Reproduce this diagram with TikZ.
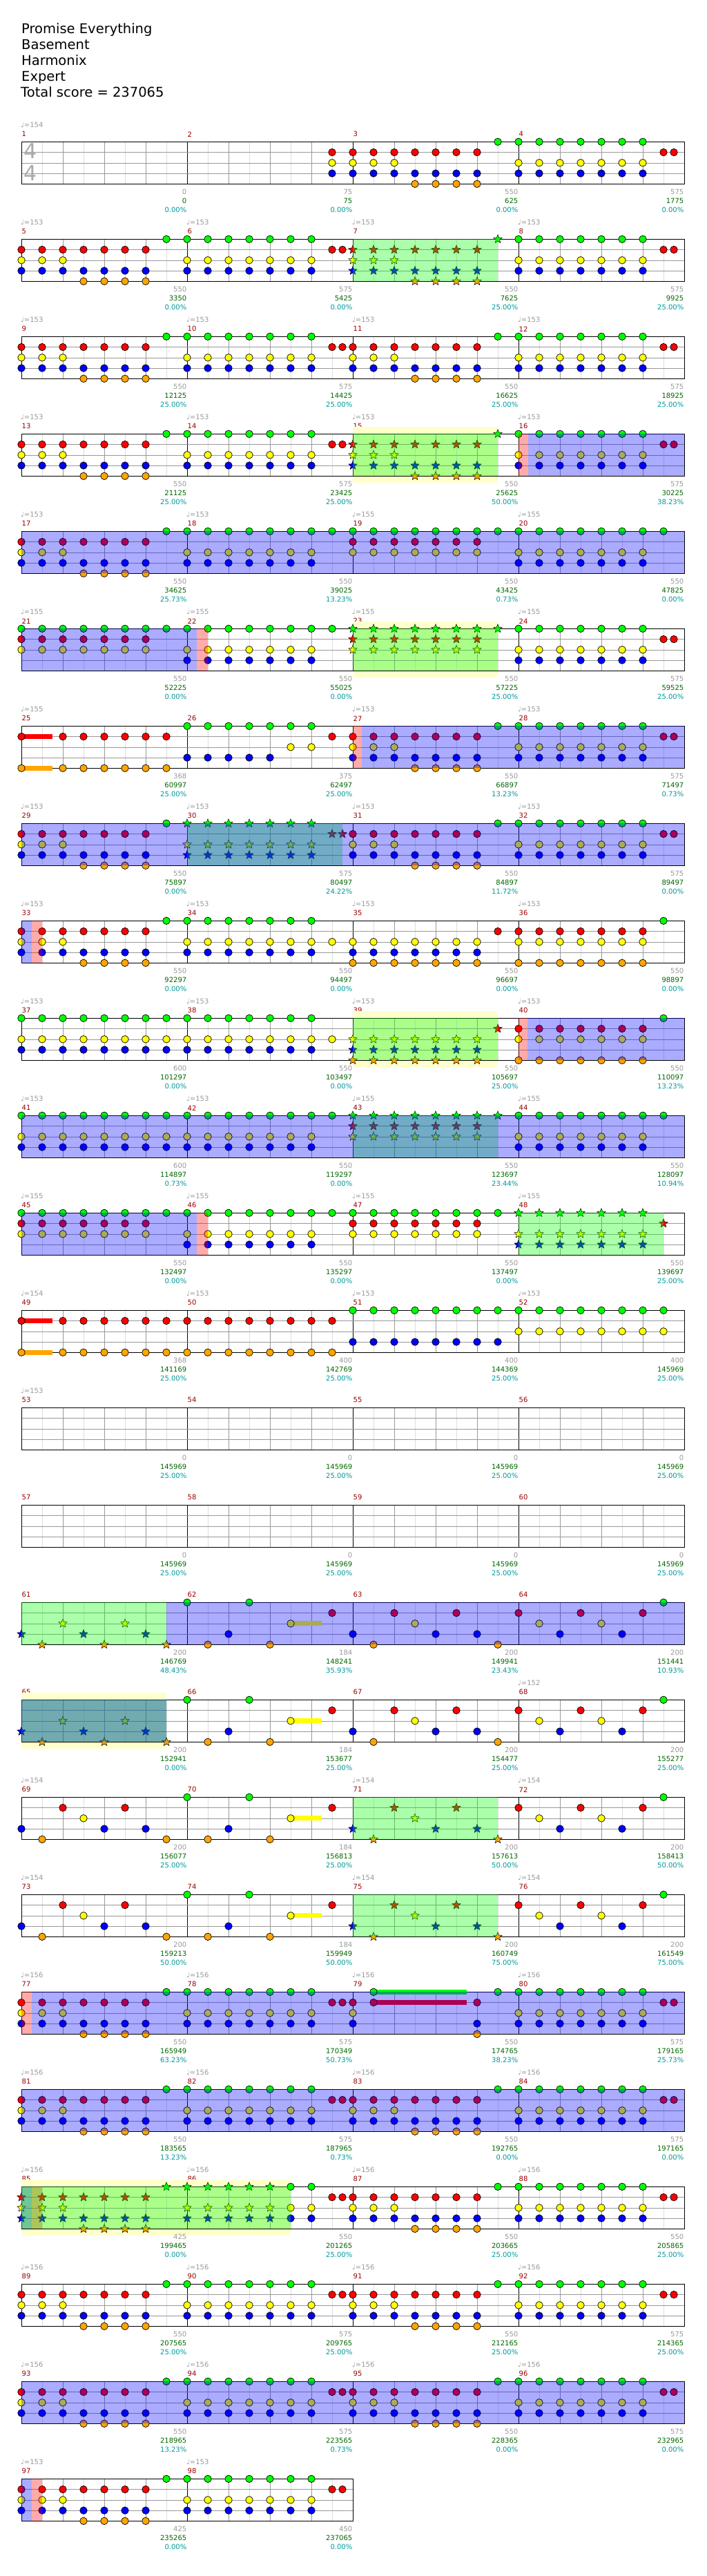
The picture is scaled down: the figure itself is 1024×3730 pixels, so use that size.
\documentclass[tikz,border=0pt]{standalone}
\usepackage{fontspec}
\setmainfont{DejaVu Sans}
\usepackage{tikz}
\usetikzlibrary{shapes.geometric}

\definecolor{ng}{HTML}{00FF00}
\definecolor{nr}{HTML}{FF0000}
\definecolor{ny}{HTML}{FFFF00}
\definecolor{nb}{HTML}{0000FF}
\definecolor{no}{HTML}{FFA500}
\definecolor{barred}{HTML}{990000}
\definecolor{tempogrey}{HTML}{999999}
\definecolor{beatgrey}{HTML}{999999}
\definecolor{halfgrey}{HTML}{DDDDDD}
\definecolor{ptsgreen}{HTML}{006600}
\definecolor{pcteal}{HTML}{009999}
\definecolor{soloyellow}{HTML}{FFFFCC}
\definecolor{tsgrey}{HTML}{AAAAAA}

% lane offsets below the staff top
\def\lyg{0}\def\lyr{15.25}\def\lyy{30.5}\def\lyb{45.75}\def\lyo{61}

\tikzset{
  note/.style={circle, draw=black, line width=0.7pt, fill=n#1, minimum size=10.5pt, inner sep=0pt},
  starnote/.style={star, star points=5, star point ratio=2.3, draw=black, line width=0.5pt, fill=n#1, minimum size=13pt, inner sep=0pt},
  lbl/.style={inner sep=0pt, font=\fontsize{10}{12}\selectfont},
  headline/.style={inner sep=0pt, anchor=base west, font=\fontsize{19.5}{22}\selectfont}
}

\newcommand\mpos[1]{%
  \pgfmathtruncatemacro\mrow{(#1-1)/4}%
  \pgfmathtruncatemacro\mcol{mod(#1-1,4)}%
  \pgfmathsetmacro\mx{31+240*\mcol}%
  \pgfmathsetmacro\my{205.3+141*\mrow}}
\newcommand\rowy[1]{\pgfmathsetmacro\ry{205.3+141*(#1-1)}}

% chords: measure, eighth positions, lanes
\newcommand\chs[3]{\mpos{#1}%
  \foreach \p in {#2}{\foreach \l in {#3}{%
    \pgfmathtruncatemacro\pn{10*\p}%
    \node[note=\l] (n#1-\pn-\l) at ({\mx+30*\p},{\my+\csname ly\l\endcsname}) {};}}}
\newcommand\sts[3]{\mpos{#1}%
  \foreach \p in {#2}{\foreach \l in {#3}{%
    \pgfmathtruncatemacro\pn{10*\p}%
    \node[starnote=\l] (s#1-\pn-\l) at ({\mx+30*\p},{\my+\csname ly\l\endcsname}) {};}}}
\newcommand\sus[4]{\mpos{#1}%
  \fill[n#4] ({\mx+30*#2},{\my+\csname ly#4\endcsname-3.5}) rectangle ++({30*#3},7);}

\newcommand\riffA[1]{\chs{#1}{0,1,2}{r,y,b}\chs{#1}{3,4,5,6}{r,b,o}\chs{#1}{7}{g}}
\newcommand\riffB[1]{\chs{#1}{0,...,6}{g,y,b}\chs{#1}{7,7.5}{r}}
\newcommand\riffAs[1]{\sts{#1}{0,1,2}{r,y,b}\sts{#1}{3,4,5,6}{r,b,o}\sts{#1}{7}{g}}

% row, from, to (in eighths from the row start)
\newcommand\odrive[3]{\rowy{#1}\fill[nb, opacity=0.33] ({31+30*#2},\ry) rectangle ({31+30*#3},\ry+61);}
\newcommand\sphrase[3]{\rowy{#1}\fill[ng, opacity=0.33] ({31+30*#2},\ry) rectangle ({31+30*#3},\ry+61);}
\newcommand\activ[3]{\rowy{#1}\fill[nr, opacity=0.33] ({31+30*#2},\ry) rectangle ({31+30*#3},\ry+61);}
\newcommand\solo[3]{\rowy{#1}\fill[soloyellow] ({31+30*#2},\ry-10) rectangle ({31+30*#3},\ry+71);}

\newcommand\staff[2]{\rowy{#1}%
  \pgfmathsetmacro\sw{240*#2}%
  \pgfmathtruncatemacro\nl{8*#2-1}%
  \pgfmathtruncatemacro\nm{#2-1}%
  \foreach \i in {1,3,...,\nl} \draw[halfgrey] ({31+30*\i},\ry) -- ++(0,61);
  \foreach \i in {2,4,...,\nl} \draw[beatgrey] ({31+30*\i},\ry) -- ++(0,61);
  \foreach \i in {1,...,\nm} \draw[black] ({31+240*\i},\ry) -- ++(0,61);
  \foreach \k in {15.25,30.5,45.75} \draw[beatgrey] (31,\ry+\k) -- ++(\sw,0);
  \draw[black, line width=0.9pt] (31,\ry) rectangle ++(\sw,61);}

\newcommand\mnum[1]{\mpos{#1}\node[lbl, text=barred, anchor=west] (m#1) at (\mx+0.5,\my-11) {#1};}
\newcommand\tempo[2]{\mpos{#1}\node[lbl, text=tempogrey, anchor=west] (t#1) at (\mx-1,\my-24) {♩=#2};}
\newcommand\score[4]{\mpos{#1}%
  \node[lbl, text=tempogrey, anchor=east] (g#1) at (\mx+239.5,\my+72.5) {#2};
  \node[lbl, text=ptsgreen, anchor=east] (p#1) at (\mx+239.5,\my+86) {#3};
  \node[lbl, text=pcteal, anchor=east] (c#1) at (\mx+239.5,\my+99) {#4\%};}

\begin{document}
\begin{tikzpicture}[x=1pt, y=-1pt]
  \useasboundingbox (0,0) rectangle (1024,3730);
  \fill[white] (0,0) rectangle (1024,3730);

  \node[headline] (song) at (31,49) {Promise Everything};
  \node[headline] (artist) at (31,72) {Basement};
  \node[headline] (charter) at (31,95) {Harmonix};
  \node[headline] (level) at (31,118) {Expert};
  \node[headline] (total) at (30,141) {Total score = 237065};

  \foreach \m in {1,...,98} {\mnum{\m}}

  % row 1
  \staff{1}{4}
  \node[text=tsgrey, inner sep=0pt, font=\fontsize{30}{30}\selectfont] (ts1) at (44.5,219) {4};
  \node[text=tsgrey, inner sep=0pt, font=\fontsize{30}{30}\selectfont] (ts2) at (44.5,250.5) {4};
  \chs{2}{7}{r,y,b}
  \riffA{3}
  \riffB{4}
  \tempo{1}{154}
  \score{1}{0}{0}{0.00}
  \score{2}{75}{75}{0.00}
  \score{3}{550}{625}{0.00}
  \score{4}{575}{1775}{0.00}

  % row 2
  \staff{2}{4}
  \riffA{5}
  \riffB{6}
  \riffAs{7}
  \riffB{8}
  \sphrase{2}{16}{23}
  \foreach \m in {5,...,8} {\tempo{\m}{153}}
  \score{5}{550}{3350}{0.00}
  \score{6}{575}{5425}{0.00}
  \score{7}{550}{7625}{25.00}
  \score{8}{575}{9925}{25.00}

  % row 3
  \staff{3}{4}
  \riffA{9}
  \riffB{10}
  \riffA{11}
  \riffB{12}
  \foreach \m in {9,...,12} {\tempo{\m}{153}}
  \score{9}{550}{12125}{25.00}
  \score{10}{575}{14425}{25.00}
  \score{11}{550}{16625}{25.00}
  \score{12}{575}{18925}{25.00}

  % row 4
  \solo{4}{16}{23}
  \staff{4}{4}
  \riffA{13}
  \riffB{14}
  \riffAs{15}
  \riffB{16}
  \sphrase{4}{16}{23}
  \activ{4}{24}{24.45}
  \odrive{4}{24.45}{32}
  \foreach \m in {13,...,16} {\tempo{\m}{153}}
  \score{13}{550}{21125}{25.00}
  \score{14}{575}{23425}{25.00}
  \score{15}{550}{25625}{50.00}
  \score{16}{575}{30225}{38.23}

  % row 5
  \staff{5}{4}
  \riffA{17}
  \chs{18}{0,...,6}{g,y,b}\chs{18}{7}{g}
  \chs{19}{0,...,6}{g,r,y}\chs{19}{7}{g}
  \chs{20}{0,...,6}{g,y,b}\chs{20}{7}{g}
  \odrive{5}{0}{32}
  \tempo{17}{153}\tempo{18}{153}\tempo{19}{155}\tempo{20}{155}
  \score{17}{550}{34625}{25.73}
  \score{18}{550}{39025}{13.23}
  \score{19}{550}{43425}{0.73}
  \score{20}{550}{47825}{0.00}

  % row 6
  \solo{6}{16}{23}
  \staff{6}{4}
  \chs{21}{0,...,6}{g,r,y}\chs{21}{7}{g}
  \chs{22}{0,...,6}{g,y,b}\chs{22}{7}{g}
  \sts{23}{0,...,6}{g,r,y}\sts{23}{7}{g}
  \riffB{24}
  \odrive{6}{0}{8.45}
  \activ{6}{8.45}{9}
  \sphrase{6}{16}{23}
  \foreach \m in {21,...,24} {\tempo{\m}{155}}
  \score{21}{550}{52225}{0.00}
  \score{22}{550}{55025}{0.00}
  \score{23}{550}{57225}{25.00}
  \score{24}{575}{59525}{25.00}

  % row 7
  \staff{7}{4}
  \sus{25}{0}{1.5}{r}\sus{25}{0}{1.5}{o}
  \chs{25}{0,2,3,4,5,6,7}{r,o}
  \chs{26}{0,...,6}{g}\chs{26}{0,...,4}{b}\chs{26}{5,6}{y}\chs{26}{7}{r}
  \riffA{27}
  \riffB{28}
  \activ{7}{16}{16.43}
  \odrive{7}{16.43}{32}
  \tempo{25}{155}\tempo{27}{153}\tempo{28}{153}
  \score{25}{368}{60997}{25.00}
  \score{26}{375}{62497}{25.00}
  \score{27}{550}{66897}{13.23}
  \score{28}{575}{71497}{0.73}

  % row 8
  \staff{8}{4}
  \riffA{29}
  \sts{30}{0,...,6}{g,y,b}\sts{30}{7,7.5}{r}
  \riffA{31}
  \riffB{32}
  \sphrase{8}{8}{15.5}
  \odrive{8}{0}{32}
  \foreach \m in {29,...,32} {\tempo{\m}{153}}
  \score{29}{550}{75897}{0.00}
  \score{30}{575}{80497}{24.22}
  \score{31}{550}{84897}{11.72}
  \score{32}{575}{89497}{0.00}

  % row 9
  \staff{9}{4}
  \riffA{33}
  \chs{34}{0,...,6}{g,y,b}\chs{34}{7}{y}
  \chs{35}{0,...,6}{y,b,o}\chs{35}{7}{r}
  \chs{36}{0,...,6}{r,y,o}\chs{36}{7}{g}
  \odrive{9}{0}{0.49}
  \activ{9}{0.49}{1.01}
  \foreach \m in {33,...,36} {\tempo{\m}{153}}
  \score{33}{550}{92297}{0.00}
  \score{34}{550}{94497}{0.00}
  \score{35}{550}{96697}{0.00}
  \score{36}{550}{98897}{0.00}

  % row 10
  \solo{10}{16}{23}
  \staff{10}{4}
  \chs{37}{0,...,7}{g,y,b}
  \chs{38}{0,...,6}{g,y,b}\chs{38}{7}{y}
  \sts{39}{0,...,6}{y,b,o}\sts{39}{7}{r}
  \chs{40}{0,...,6}{r,y,o}\chs{40}{7}{g}
  \sphrase{10}{16}{23}
  \activ{10}{24}{24.43}
  \odrive{10}{24.43}{32}
  \foreach \m in {37,...,40} {\tempo{\m}{153}}
  \score{37}{600}{101297}{0.00}
  \score{38}{550}{103497}{0.00}
  \score{39}{550}{105697}{25.00}
  \score{40}{550}{110097}{13.23}

  % row 11
  \staff{11}{4}
  \chs{41}{0,...,7}{g,y,b}
  \chs{42}{0,...,6}{g,y,b}\chs{42}{7}{g}
  \sts{43}{0,...,6}{g,r,y}\sts{43}{7}{g}
  \chs{44}{0,...,6}{g,y,b}\chs{44}{7}{g}
  \sphrase{11}{16}{23}
  \odrive{11}{0}{32}
  \tempo{41}{153}\tempo{42}{153}\tempo{43}{155}\tempo{44}{155}
  \score{41}{600}{114897}{0.73}
  \score{42}{550}{119297}{0.00}
  \score{43}{550}{123697}{23.44}
  \score{44}{550}{128097}{10.94}

  % row 12
  \staff{12}{4}
  \chs{45}{0,...,6}{g,r,y}\chs{45}{7}{g}
  \chs{46}{0,...,6}{g,y,b}\chs{46}{7}{g}
  \chs{47}{0,...,6}{g,r,y}\chs{47}{7}{g}
  \sts{48}{0,...,6}{g,y,b}\sts{48}{7}{r}
  \odrive{12}{0}{8.45}
  \activ{12}{8.45}{9}
  \sphrase{12}{24}{31}
  \foreach \m in {45,...,48} {\tempo{\m}{155}}
  \score{45}{550}{132497}{0.00}
  \score{46}{550}{135297}{0.00}
  \score{47}{550}{137497}{0.00}
  \score{48}{550}{139697}{25.00}

  % row 13
  \staff{13}{4}
  \sus{49}{0}{1.5}{r}\sus{49}{0}{1.5}{o}
  \chs{49}{0,2,3,4,5,6,7}{r,o}
  \chs{50}{0,...,7}{r,o}
  \chs{51}{0,...,7}{g,b}
  \chs{52}{0,...,7}{g,y}
  \tempo{49}{154}\tempo{50}{153}\tempo{51}{153}\tempo{52}{153}
  \score{49}{368}{141169}{25.00}
  \score{50}{400}{142769}{25.00}
  \score{51}{400}{144369}{25.00}
  \score{52}{400}{145969}{25.00}

  % rows 14 and 15
  \staff{14}{4}
  \staff{15}{4}
  \tempo{53}{153}
  \foreach \m in {53,...,60} {\score{\m}{0}{145969}{25.00}}

  % row 16
  \staff{16}{4}
  \sts{61}{0,3,6}{b}\sts{61}{1,4,7}{o}\sts{61}{2,5}{y}
  \sus{62}{5}{1.5}{y}
  \chs{62}{0,3}{g}\chs{62}{1,4}{o}\chs{62}{2}{b}\chs{62}{5}{y}\chs{62}{7}{r}
  \chs{63}{0,4,6}{b}\chs{63}{1,7}{o}\chs{63}{2,5}{r}\chs{63}{3}{y}
  \chs{64}{0,3,6}{r}\chs{64}{1,4}{y}\chs{64}{2,5}{b}\chs{64}{7}{g}
  \sphrase{16}{0}{7}
  \odrive{16}{7}{32}
  \score{61}{200}{146769}{48.43}
  \score{62}{184}{148241}{35.93}
  \score{63}{200}{149941}{23.43}
  \score{64}{200}{151441}{10.93}

  % row 17
  \solo{17}{0}{7}
  \staff{17}{4}
  \sts{65}{0,3,6}{b}\sts{65}{1,4,7}{o}\sts{65}{2,5}{y}
  \sus{66}{5}{1.5}{y}
  \chs{66}{0,3}{g}\chs{66}{1,4}{o}\chs{66}{2}{b}\chs{66}{5}{y}\chs{66}{7}{r}
  \chs{67}{0,4,6}{b}\chs{67}{1,7}{o}\chs{67}{2,5}{r}\chs{67}{3}{y}
  \chs{68}{0,3,6}{r}\chs{68}{1,4}{y}\chs{68}{2,5}{b}\chs{68}{7}{g}
  \sphrase{17}{0}{7}
  \odrive{17}{0}{7}
  \tempo{68}{152}
  \score{65}{200}{152941}{0.00}
  \score{66}{184}{153677}{25.00}
  \score{67}{200}{154477}{25.00}
  \score{68}{200}{155277}{25.00}

  % row 18
  \staff{18}{4}
  \chs{69}{0,4,6}{b}\chs{69}{1,7}{o}\chs{69}{2,5}{r}\chs{69}{3}{y}
  \sus{70}{5}{1.5}{y}
  \chs{70}{0,3}{g}\chs{70}{1,4}{o}\chs{70}{2}{b}\chs{70}{5}{y}\chs{70}{7}{r}
  \sts{71}{0,4,6}{b}\sts{71}{1,7}{o}\sts{71}{2,5}{r}\sts{71}{3}{y}
  \chs{72}{0,3,6}{r}\chs{72}{1,4}{y}\chs{72}{2,5}{b}\chs{72}{7}{g}
  \sphrase{18}{16}{23}
  \tempo{69}{154}\tempo{71}{154}\tempo{72}{154}
  \score{69}{200}{156077}{25.00}
  \score{70}{184}{156813}{25.00}
  \score{71}{200}{157613}{50.00}
  \score{72}{200}{158413}{50.00}

  % row 19
  \staff{19}{4}
  \chs{73}{0,4,6}{b}\chs{73}{1,7}{o}\chs{73}{2,5}{r}\chs{73}{3}{y}
  \sus{74}{5}{1.5}{y}
  \chs{74}{0,3}{g}\chs{74}{1,4}{o}\chs{74}{2}{b}\chs{74}{5}{y}\chs{74}{7}{r}
  \sts{75}{0,4,6}{b}\sts{75}{1,7}{o}\sts{75}{2,5}{r}\sts{75}{3}{y}
  \chs{76}{0,3,6}{r}\chs{76}{1,4}{y}\chs{76}{2,5}{b}\chs{76}{7}{g}
  \sphrase{19}{16}{23}
  \tempo{73}{154}\tempo{75}{154}\tempo{76}{154}
  \score{73}{200}{159213}{50.00}
  \score{74}{184}{159949}{50.00}
  \score{75}{200}{160749}{75.00}
  \score{76}{200}{161549}{75.00}

  % row 20
  \staff{20}{4}
  \riffA{77}
  \riffB{78}
  \chs{79}{0}{r,y,b}
  \sus{79}{1}{4.5}{g}\sus{79}{1}{4.5}{r}
  \chs{79}{1}{g,r}\chs{79}{6}{r,b,o}\chs{79}{7}{g}
  \riffB{80}
  \activ{20}{0}{0.5}
  \odrive{20}{0.5}{32}
  \foreach \m in {77,...,80} {\tempo{\m}{156}}
  \score{77}{550}{165949}{63.23}
  \score{78}{575}{170349}{50.73}
  \score{79}{550}{174765}{38.23}
  \score{80}{575}{179165}{25.73}

  % row 21
  \staff{21}{4}
  \riffA{81}
  \riffB{82}
  \riffA{83}
  \riffB{84}
  \odrive{21}{0}{32}
  \foreach \m in {81,...,84} {\tempo{\m}{156}}
  \score{81}{550}{183565}{13.23}
  \score{82}{575}{187965}{0.73}
  \score{83}{550}{192765}{0.00}
  \score{84}{575}{197165}{0.00}

  % row 22
  \solo{22}{0}{13}
  \staff{22}{4}
  \riffAs{85}
  \sts{86}{0,...,4}{g,y,b}\chs{86}{5,6}{g,y,b}\chs{86}{7,7.5}{r}
  \riffA{87}
  \riffB{88}
  \odrive{22}{0}{0.5}
  \activ{22}{0.5}{1}
  \sphrase{22}{0}{13}
  \foreach \m in {85,...,88} {\tempo{\m}{156}}
  \score{85}{425}{199465}{0.00}
  \score{86}{550}{201265}{25.00}
  \score{87}{550}{203665}{25.00}
  \score{88}{550}{205865}{25.00}

  % row 23
  \staff{23}{4}
  \riffA{89}
  \riffB{90}
  \riffA{91}
  \riffB{92}
  \foreach \m in {89,...,92} {\tempo{\m}{156}}
  \score{89}{550}{207565}{25.00}
  \score{90}{575}{209765}{25.00}
  \score{91}{550}{212165}{25.00}
  \score{92}{575}{214365}{25.00}

  % row 24
  \staff{24}{4}
  \riffA{93}
  \riffB{94}
  \riffA{95}
  \riffB{96}
  \odrive{24}{0}{32}
  \foreach \m in {93,...,96} {\tempo{\m}{156}}
  \score{93}{550}{218965}{13.23}
  \score{94}{575}{223565}{0.73}
  \score{95}{550}{228365}{0.00}
  \score{96}{575}{232965}{0.00}

  % row 25
  \staff{25}{2}
  \riffA{97}
  \riffB{98}
  \odrive{25}{0}{0.5}
  \activ{25}{0.5}{1}
  \tempo{97}{153}\tempo{98}{153}
  \score{97}{425}{235265}{0.00}
  \score{98}{450}{237065}{0.00}
\end{tikzpicture}
\end{document}
